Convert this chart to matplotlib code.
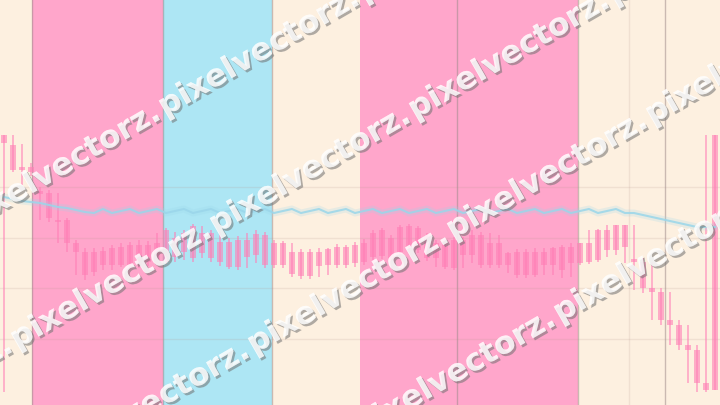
import matplotlib

matplotlib.use("Agg")
import matplotlib.pyplot as plt
import matplotlib.patheffects as pe
import numpy as np

# palette
CREAM = "#FDF0E0"
PINK = "#FFA6CB"
BLUE = "#ADE6F4"
CANDLE = "#FF7FB6"
MA_COLOR = "#9AD6EA"
SEP = "#A08C8C"

# OHLC (arbitrary price units)
opens = [270, 260, 238, 238, 214, 212, 185, 185, 162, 153, 153, 154, 157, 158, 160, 160,
         160, 162, 175, 167, 172, 179, 172, 172, 163, 163, 165, 165, 171, 170, 162, 162,
         153, 153, 153, 153, 156, 158, 158, 160, 162, 172, 175, 167, 178, 179, 177, 169,
         162, 163, 165, 165, 170, 170, 162, 162, 152, 153, 153, 153, 153, 157, 158, 158,
         162, 162, 175, 175, 180, 180, 146, 143, 117, 113, 85, 80, 60, 55, 22, 270]
highs = [270, 270, 261, 242, 218, 215, 212, 187, 165, 157, 157, 158, 160, 162, 163, 165,
         164, 172, 177, 173, 175, 181, 179, 175, 173, 167, 169, 172, 175, 173, 165, 164,
         162, 156, 156, 157, 157, 161, 160, 163, 166, 175, 177, 170, 180, 181, 179, 172,
         165, 166, 168, 168, 175, 173, 172, 170, 153, 156, 156, 157, 157, 158, 160, 162,
         162, 175, 176, 180, 180, 180, 180, 147, 143, 117, 113, 85, 80, 60, 270, 270]
lows = [13, 233, 220, 229, 185, 183, 162, 153, 130, 125, 129, 135, 135, 138, 137, 137,
        139, 142, 141, 143, 145, 143, 147, 143, 139, 136, 135, 137, 142, 137, 137, 137,
        128, 126, 126, 128, 130, 137, 137, 138, 140, 143, 146, 143, 147, 155, 152, 144,
        138, 136, 135, 137, 142, 137, 137, 137, 132, 127, 127, 128, 130, 130, 127, 128,
        140, 141, 143, 148, 150, 142, 115, 112, 85, 80, 60, 55, 22, 13, 13, 15]
closes = [262, 235, 235, 233, 211, 187, 183, 162, 153, 130, 133, 140, 140, 140, 140, 140,
          143, 145, 143, 148, 153, 147, 152, 147, 143, 138, 138, 148, 150, 140, 140, 140,
          131, 129, 129, 139, 140, 140, 140, 142, 143, 148, 149, 147, 153, 158, 155, 147,
          147, 138, 137, 150, 150, 140, 140, 140, 140, 130, 130, 130, 140, 140, 135, 142,
          142, 143, 145, 155, 155, 158, 143, 117, 113, 85, 80, 60, 55, 22, 15, 15]

# moving average line
ma = [208, 206, 204, 203, 202, 200, 198, 197, 195, 193, 192, 196, 192, 194, 196, 192,
      194, 196, 192, 194, 196, 192, 194, 196, 192, 194, 196, 192, 194, 196, 192, 194,
      196, 192, 194, 196, 192, 194, 196, 192, 194, 196, 192, 194, 196, 192, 194, 196,
      192, 194, 196, 192, 194, 196, 192, 194, 196, 192, 194, 196, 192, 194, 196, 192,
      194, 196, 192, 194, 196, 192, 192, 190, 188, 186, 184, 182, 180, 178, 178, 178]

# background zones (candle-index units)
band_edges = [-0.5, 3.1, 17.7, 29.8, 39.6, 63.8, 80.0]
band_colors = [CREAM, PINK, BLUE, CREAM, PINK, CREAM]
separators = [3.1, 17.7, 29.8, 50.3, 63.8, 73.4]
grid_levels = [66, 117, 167, 218]

x = np.arange(len(opens))

fig = plt.figure(figsize=(7.2, 4.05), dpi=100)
ax = fig.add_axes([0, 0, 1, 1])
ax.set_xlim(-0.44, 79.56)
ax.set_ylim(0, 405)
ax.axis("off")

for left, right, col in zip(band_edges[:-1], band_edges[1:], band_colors):
    ax.axvspan(left, right, color=col, lw=0, zorder=0)
for lvl in grid_levels:
    ax.axhline(lvl, color="#B89890", alpha=0.18, lw=1, zorder=1)
ax.axvline(69.5, color="#B89890", alpha=0.18, lw=1, zorder=1)
for s in separators:
    ax.axvline(s, color=SEP, alpha=0.55, lw=1, zorder=1)

# candles
o = np.array(opens)
c = np.array(closes)
ax.vlines(x, lows, highs, color=CANDLE, alpha=0.6, lw=1.3, zorder=3)
ax.bar(x, np.abs(o - c), bottom=np.minimum(o, c), width=0.6,
       color=CANDLE, alpha=0.6, lw=0, zorder=3)

# moving average with glow
ax.plot(x, ma, color=MA_COLOR, lw=5, alpha=0.22, zorder=4, solid_capstyle="round")
ax.plot(x, ma, color=MA_COLOR, lw=1.5, alpha=0.85, zorder=4)

# watermark overlay, pixel space
wm = fig.add_axes([0, 0, 1, 1], facecolor="none")
wm.set_xlim(0, 720)
wm.set_ylim(405, 0)
wm.axis("off")
effects = [pe.withSimplePatchShadow(offset=(1.5, -1.5), shadow_rgbFace="#707070", alpha=0.55),
           pe.Normal()]
angle = 30
slope = np.tan(np.radians(angle))
step = 199  # horizontal run of one "pixelvectorz."
rows = [(165, 212), (17, 359), (55, 501), (361, 646)]  # (first "p" x, baseline y at x=0)
for start, intercept in rows:
    xs = start - step * np.ceil((start + 220) / step)
    while xs < 720:
        wm.text(xs, intercept - slope * xs, "pixelvectorz.", rotation=angle,
                rotation_mode="anchor", ha="left", va="baseline", fontsize=22.5,
                fontweight="bold", color="white", alpha=0.6,
                path_effects=effects, zorder=10, clip_on=True)
        xs += step

fig.savefig("out.png", dpi=100)
